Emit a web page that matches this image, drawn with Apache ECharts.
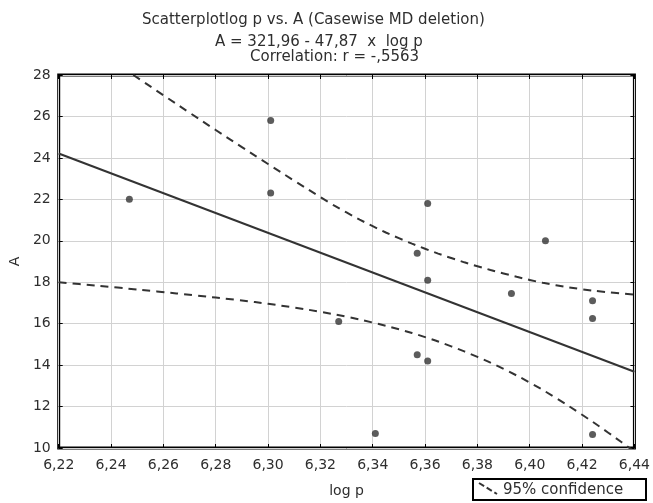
<!DOCTYPE html>
<html>
<head>
<meta charset="utf-8">
<script src="https://cdn.jsdelivr.net/npm/echarts@6/dist/echarts.min.js"></script>
<style>
  html, body { margin: 0; padding: 0; background: #fff; }
  #chart { width: 653px; height: 503px; }
</style>
</head>
<body>
<div id="chart"></div>
<script>
// observed points (log p, A)
const pointX = [6.247, 6.301, 6.301, 6.327, 6.341, 6.357, 6.357, 6.361, 6.361, 6.361, 6.393, 6.406, 6.424, 6.424, 6.424];
const pointY = [22.0, 25.8, 22.3, 16.1, 10.7, 19.4, 14.5, 21.8, 18.1, 14.2, 17.45, 20.0, 17.1, 16.25, 10.65];

// fitted line end points, read at the frame edges
const fitX = [6.22, 6.44];
const fitY = [24.21, 13.68];

// 95% confidence band, upper and lower
const upperX = [6.2485, 6.255, 6.265, 6.275, 6.285, 6.295, 6.305, 6.315, 6.325, 6.335, 6.345, 6.355, 6.365, 6.375, 6.385, 6.395, 6.405, 6.415, 6.425, 6.440];
const upperY = [28.0, 27.45, 26.6, 25.76, 24.93, 24.11, 23.3, 22.5, 21.72, 21.02, 20.4, 19.86, 19.38, 18.96, 18.59, 18.26, 17.97, 17.75, 17.58, 17.4];
const lowerX = [6.220, 6.235, 6.250, 6.265, 6.280, 6.295, 6.305, 6.315, 6.325, 6.335, 6.345, 6.355, 6.365, 6.375, 6.385, 6.395, 6.405, 6.415, 6.425, 6.435, 6.445];
const lowerY = [18.0, 17.83, 17.65, 17.46, 17.26, 17.04, 16.87, 16.68, 16.46, 16.2, 15.9, 15.55, 15.14, 14.66, 14.12, 13.5, 12.8, 12.02, 11.18, 10.29, 9.36];

const titleLines = ['Scatterplotlog p vs. A (Casewise MD deletion)', 'A = 321,96 - 47,87  x  log p', 'Correlation: r = -,5563'];
const legendText = '95% confidence';

const zip = (xs, ys) => xs.map((x, i) => [x, ys[i]]);
const font = 'DejaVu Sans, Liberation Sans, sans-serif';
const ink = '#2e2e2e';

const chart = echarts.init(document.getElementById('chart'), null, { renderer: 'canvas' });

const hiddenAxis = {
  axisLine: { show: false },
  axisLabel: { show: false },
  splitLine: { show: false },
  axisTick: { inside: true, length: 4, lineStyle: { color: '#000' } }
};

const option = {
  backgroundColor: '#fff',
  animation: false,
  title: titleLines.map((t, i) => ({
    text: t,
    left: [142, 215, 250][i],
    top: [12, 34, 49][i],
    padding: 0,
    textStyle: { fontFamily: font, fontSize: 15, lineHeight: 16, fontWeight: 'normal', color: ink }
  })),
  grid: {
    left: 52, right: 17, top: 75, bottom: 51,
    show: true, borderColor: '#000', borderWidth: 3, backgroundColor: 'transparent'
  },
  xAxis: [
    {
      type: 'value',
      min: 6.22, max: 6.44, interval: 0.02,
      name: 'log p', nameLocation: 'middle', nameGap: 36,
      nameTextStyle: { fontFamily: font, fontSize: 14, color: ink },
      axisLine: { show: false },
      axisTick: { inside: true, length: 4, lineStyle: { color: '#000' } },
      axisLabel: {
        fontFamily: font, fontSize: 14, color: ink, margin: 10,
        formatter: v => v.toFixed(2).replace('.', ',')
      },
      splitLine: { lineStyle: { color: '#d2d2d2', width: 1 } }
    },
    Object.assign({ type: 'value', position: 'top', min: 6.22, max: 6.44, interval: 0.02 }, hiddenAxis)
  ],
  yAxis: [
    {
      type: 'value',
      min: 10, max: 28, interval: 2,
      name: 'A', nameLocation: 'middle', nameGap: 36, nameRotate: 90,
      nameTextStyle: { fontFamily: font, fontSize: 14, color: ink },
      axisLine: { show: false },
      axisTick: { inside: true, length: 4, lineStyle: { color: '#000' } },
      axisLabel: { fontFamily: font, fontSize: 14, color: ink, margin: 8 },
      splitLine: { lineStyle: { color: '#d2d2d2', width: 1 } }
    },
    Object.assign({ type: 'value', position: 'right', min: 10, max: 28, interval: 2 }, hiddenAxis)
  ],
  series: [
    {
      type: 'line', data: zip(fitX, fitY), symbol: 'none',
      lineStyle: { color: '#333', width: 2 }, z: 3
    },
    {
      type: 'line', data: zip(upperX, upperY), symbol: 'none', smooth: 0.2,
      lineStyle: { color: '#333', width: 2, type: [8, 6] }, z: 3
    },
    {
      type: 'line', data: zip(lowerX, lowerY), symbol: 'none', smooth: 0.2,
      lineStyle: { color: '#333', width: 2, type: [8, 6] }, z: 3
    },
    {
      type: 'scatter', data: zip(pointX, pointY), symbol: 'circle', symbolSize: 7,
      itemStyle: { color: '#333' }, z: 4
    }
  ],
  graphic: [
    {
      type: 'group', left: 472, top: 478,
      children: [
        { type: 'rect', shape: { x: 0, y: 0, width: 173, height: 21 },
          style: { fill: '#fff', stroke: '#000', lineWidth: 2 } },
        { type: 'line', shape: { x1: 6, y1: 4, x2: 24, y2: 15 },
          style: { stroke: '#333', lineWidth: 2, lineDash: [6, 3] } },
        { type: 'text', x: 30, y: 11,
          style: { text: legendText, font: '15px ' + font, fill: ink, textVerticalAlign: 'middle' } }
      ]
    }
  ]
};

chart.setOption(option);
</script>
</body>
</html>
